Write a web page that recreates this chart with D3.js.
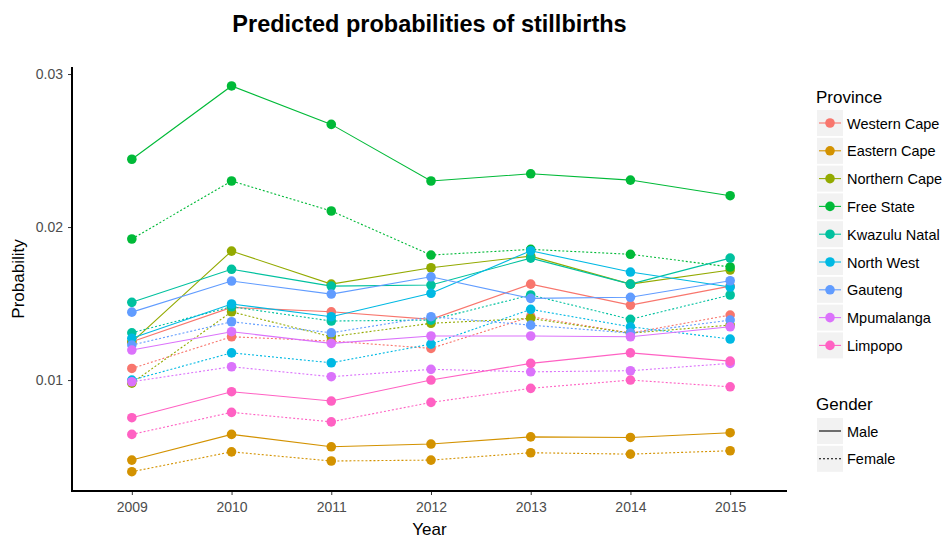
<!DOCTYPE html>
<html>
<head>
<meta charset="utf-8">
<script src="https://cdn.jsdelivr.net/npm/d3@7"></script>
<style>
  body { margin: 0; background: #fff; }
  svg text { font-family: "Liberation Sans", Arial, sans-serif; }
</style>
</head>
<body>
<svg id="chart" width="946" height="538"></svg>
<script>
// Predicted probabilities of stillbirth by province and gender, 2009-2015
const years = [2009, 2010, 2011, 2012, 2013, 2014, 2015];
const provinces = ["Western Cape", "Eastern Cape", "Northern Cape", "Free State",
  "Kwazulu Natal", "North West", "Gauteng", "Mpumalanga", "Limpopo"];
const genders = ["Male", "Female"];
const yTicks = [0.01, 0.02, 0.03];

const westernCapeMale     = [0.01250, 0.01475, 0.01446, 0.01397, 0.01627, 0.01490, 0.01614];
const westernCapeFemale   = [0.01076, 0.01283, 0.01255, 0.01207, 0.01414, 0.01307, 0.01425];
const easternCapeMale     = [0.00477, 0.00645, 0.00564, 0.00582, 0.00629, 0.00625, 0.00656];
const easternCapeFemale   = [0.00401, 0.00531, 0.00471, 0.00477, 0.00525, 0.00516, 0.00538];
const northernCapeMale    = [0.01248, 0.01843, 0.01627, 0.01734, 0.01810, 0.01627, 0.01719];
const northernCapeFemale  = [0.00980, 0.01446, 0.01283, 0.01371, 0.01403, 0.01307, 0.01359];
const freeStateMale       = [0.02443, 0.02922, 0.02671, 0.02301, 0.02348, 0.02307, 0.02205];
const freeStateFemale     = [0.01922, 0.02301, 0.02105, 0.01817, 0.01854, 0.01822, 0.01739];
const kwazuluNatalMale    = [0.01508, 0.01724, 0.01614, 0.01621, 0.01797, 0.01627, 0.01797];
const kwazuluNatalFemale  = [0.01309, 0.01479, 0.01386, 0.01392, 0.01556, 0.01397, 0.01556];
const northWestMale       = [0.01273, 0.01497, 0.01414, 0.01567, 0.01845, 0.01706, 0.01608];
const northWestFemale     = [0.01000, 0.01178, 0.01113, 0.01235, 0.01462, 0.01348, 0.01268];
const gautengMale         = [0.01444, 0.01647, 0.01562, 0.01675, 0.01534, 0.01541, 0.01649];
const gautengFemale       = [0.01229, 0.01381, 0.01309, 0.01414, 0.01359, 0.01307, 0.01392];
const mpumalangaMale      = [0.01196, 0.01316, 0.01240, 0.01288, 0.01288, 0.01283, 0.01348];
const mpumalangaFemale    = [0.00989, 0.01087, 0.01022, 0.01070, 0.01054, 0.01061, 0.01109];
const limpopoMale         = [0.00754, 0.00924, 0.00863, 0.01000, 0.01109, 0.01178, 0.01124];
const limpopoFemale       = [0.00645, 0.00789, 0.00727, 0.00854, 0.00946, 0.01000, 0.00956];

const maleValues = [westernCapeMale, easternCapeMale, northernCapeMale, freeStateMale,
  kwazuluNatalMale, northWestMale, gautengMale, mpumalangaMale, limpopoMale];
const femaleValues = [westernCapeFemale, easternCapeFemale, northernCapeFemale, freeStateFemale,
  kwazuluNatalFemale, northWestFemale, gautengFemale, mpumalangaFemale, limpopoFemale];

const palette = ["#F8766D", "#D39200", "#93AA00", "#00BA38", "#00C19F",
  "#00B9E3", "#619CFF", "#DB72FB", "#FF61C3"];

// one series per province x gender
const series = [];
provinces.forEach((p, i) => {
  series.push({ province: p, gender: "Male", values: maleValues[i] });
  series.push({ province: p, gender: "Female", values: femaleValues[i] });
});

const svg = d3.select("#chart");
const panel = { left: 72, right: 787, top: 67, bottom: 491 };

const color = d3.scaleOrdinal().domain(provinces).range(palette);
const dash = d3.scaleOrdinal().domain(genders).range(["none", "2,2"]);

const x = d3.scaleLinear().domain([2008.4, 2015.57]).range([panel.left, panel.right]);
const y = d3.scaleLinear().domain([0.00275, 0.03046]).range([panel.bottom, panel.top]);

// title
svg.append("text")
  .attr("x", (panel.left + panel.right) / 2).attr("y", 32)
  .attr("text-anchor", "middle")
  .attr("font-size", 23.5).attr("font-weight", "bold").attr("fill", "#000")
  .text("Predicted probabilities of stillbirths");

// lines
const line = d3.line().x((d, i) => x(years[i])).y(d => y(d));
const plot = svg.append("g");
plot.selectAll("path.series")
  .data(series)
  .join("path")
  .attr("class", "series")
  .attr("d", d => line(d.values))
  .attr("fill", "none")
  .attr("stroke", d => color(d.province))
  .attr("stroke-width", 1.1)
  .attr("stroke-dasharray", d => dash(d.gender));

// points
series.forEach(s => {
  plot.append("g").selectAll("circle")
    .data(s.values)
    .join("circle")
    .attr("cx", (d, i) => x(years[i]))
    .attr("cy", d => y(d))
    .attr("r", 4.8)
    .attr("fill", color(s.province));
});

// axes
const xAxis = d3.axisBottom(x).tickValues(years).tickFormat(d3.format("d")).tickSize(4).tickPadding(7);
const yAxis = d3.axisLeft(y).tickValues(yTicks).tickFormat(d3.format(".2f")).tickSize(4).tickPadding(5);

const gx = svg.append("g").attr("transform", `translate(0,${panel.bottom})`).call(xAxis);
const gy = svg.append("g").attr("transform", `translate(${panel.left},0)`).call(yAxis);
[gx, gy].forEach(g => {
  g.select(".domain").remove();
  g.selectAll(".tick line").attr("stroke", "#333").attr("stroke-width", 1);
  g.selectAll(".tick text").attr("fill", "#4D4D4D").attr("font-size", 14)
    .attr("font-family", "'Liberation Sans', Arial, sans-serif");
});
svg.append("line")
  .attr("x1", panel.left).attr("x2", panel.left)
  .attr("y1", panel.top).attr("y2", panel.bottom + 1)
  .attr("stroke", "#000").attr("stroke-width", 2);
svg.append("line")
  .attr("x1", panel.left - 1).attr("x2", panel.right)
  .attr("y1", panel.bottom).attr("y2", panel.bottom)
  .attr("stroke", "#000").attr("stroke-width", 2);

// axis titles
svg.append("text")
  .attr("x", (panel.left + panel.right) / 2).attr("y", 535)
  .attr("text-anchor", "middle").attr("font-size", 17).attr("fill", "#000")
  .text("Year");
svg.append("text")
  .attr("transform", `translate(24,${(panel.top + panel.bottom) / 2}) rotate(-90)`)
  .attr("text-anchor", "middle").attr("font-size", 17).attr("fill", "#000")
  .text("Probability");

// legends
const legendX = 817;
const keyW = 26, keyH = 26, keyStep = 27.8;

const lp = svg.append("g");
lp.append("text").attr("x", legendX - 1).attr("y", 103)
  .attr("font-size", 17).attr("fill", "#000").text("Province");
const pItems = lp.selectAll("g.item").data(provinces).join("g")
  .attr("class", "item")
  .attr("transform", (d, i) => `translate(${legendX},${110 + i * keyStep})`);
pItems.append("rect").attr("width", keyW).attr("height", keyH).attr("fill", "#F2F2F2");
pItems.append("line").attr("x1", 2).attr("x2", keyW - 2).attr("y1", keyH / 2).attr("y2", keyH / 2)
  .attr("stroke", d => color(d)).attr("stroke-width", 1.1);
pItems.append("circle").attr("cx", keyW / 2).attr("cy", keyH / 2).attr("r", 4.8)
  .attr("fill", d => color(d));
pItems.append("text").attr("x", keyW + 4).attr("y", keyH / 2 + 5.5)
  .attr("font-size", 14.5).attr("fill", "#000").text(d => d);

const lg = svg.append("g");
lg.append("text").attr("x", legendX - 1).attr("y", 410)
  .attr("font-size", 17).attr("fill", "#000").text("Gender");
const gItems = lg.selectAll("g.item").data(genders).join("g")
  .attr("class", "item")
  .attr("transform", (d, i) => `translate(${legendX},${418 + i * keyStep})`);
gItems.append("rect").attr("width", keyW).attr("height", keyH).attr("fill", "#F2F2F2");
gItems.append("line").attr("x1", 2).attr("x2", keyW - 2).attr("y1", keyH / 2).attr("y2", keyH / 2)
  .attr("stroke", "#000").attr("stroke-width", 1.1)
  .attr("stroke-dasharray", d => dash(d));
gItems.append("text").attr("x", keyW + 4).attr("y", keyH / 2 + 5.5)
  .attr("font-size", 14.5).attr("fill", "#000").text(d => d);
</script>
</body>
</html>
